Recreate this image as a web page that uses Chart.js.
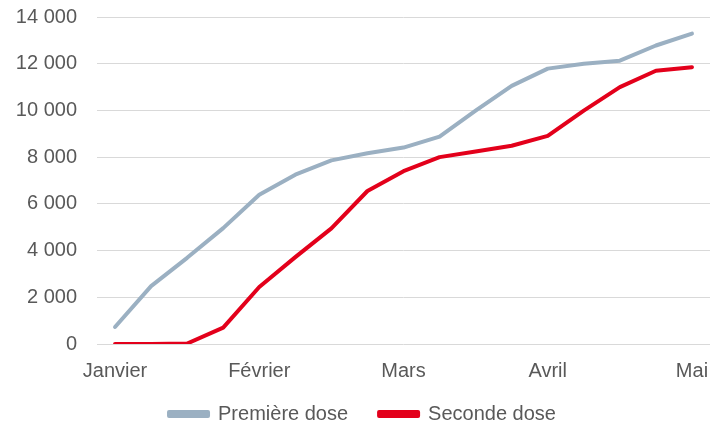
<!DOCTYPE html>
<html>
<head>
<meta charset="utf-8">
<script src="https://cdn.jsdelivr.net/npm/chart.js@4/dist/chart.umd.min.js"></script>
<style>
html,body{margin:0;padding:0;background:#fff;}
#wrap{width:710px;height:426px;position:relative;}
</style>
</head>
<body>
<div id="wrap"><canvas id="c"></canvas></div>
<script>
const categories = ['Janvier','','','','Février','','','','Mars','','','','Avril','','','','Mai'];
const premiereDose = [730, 2480, 3690, 4960, 6390, 7250, 7860, 8170, 8410, 8880, 9990, 11050, 11790, 12000, 12130, 12780, 13290];
const secondeDose = [0, 0, 20, 700, 2440, 3720, 4950, 6550, 7400, 8000, 8240, 8490, 8910, 9990, 11000, 11700, 11850];
const yTicks = [0, 2000, 4000, 6000, 8000, 10000, 12000, 14000];

const fmt = v => String(v).replace(/\B(?=(\d{3})+(?!\d))/g, ' ');
const FONT = 'Liberation Sans, Arial, sans-serif';
const TXT = '#595959';

new Chart(document.getElementById('c'), {
  type: 'line',
  data: {
    labels: categories,
    datasets: [
      {label: 'Première dose', data: premiereDose, borderColor: '#9BB0C2', backgroundColor: '#9BB0C2', borderWidth: 4, pointRadius: 0, tension: 0, borderCapStyle: 'round', borderJoinStyle: 'round'},
      {label: 'Seconde dose', data: secondeDose, borderColor: '#E3001B', backgroundColor: '#E3001B', borderWidth: 4, pointRadius: 0, tension: 0, borderCapStyle: 'round', borderJoinStyle: 'round'}
    ]
  },
  options: {
    responsive: true,
    maintainAspectRatio: false,
    animation: false,
    layout: {padding: {left: 15, right: 0, top: 17, bottom: -8}},
    plugins: {
      legend: {
        position: 'bottom',
        labels: {
          boxWidth: 39, boxHeight: 4, padding: 31,
          color: TXT,
          font: {family: FONT, size: 20}
        }
      },
      tooltip: {enabled: false}
    },
    scales: {
      x: {
        offset: true,
        grid: {display: false, drawTicks: false},
        border: {display: false},
        ticks: {autoSkip: false, maxRotation: 0, padding: 15, color: TXT, font: {family: FONT, size: 20}},
        afterFit: s => { s.paddingLeft = 0; s.paddingRight = 0; s.height = 29; s._computeLabelArea = () => undefined; }
      },
      y: {
        min: 0, max: 14000,
        afterBuildTicks: axis => { axis.ticks = yTicks.map(v => ({value: v})); },
        grid: {color: '#D9D9D9', lineWidth: 1, drawTicks: false},
        border: {display: false},
        ticks: {padding: 20, color: TXT, font: {family: FONT, size: 20}, callback: v => fmt(v)},
        afterFit: s => { s.width = 82; s.paddingTop = 0; s.paddingBottom = 0; }
      }
    }
  }
});
</script>
</body>
</html>
